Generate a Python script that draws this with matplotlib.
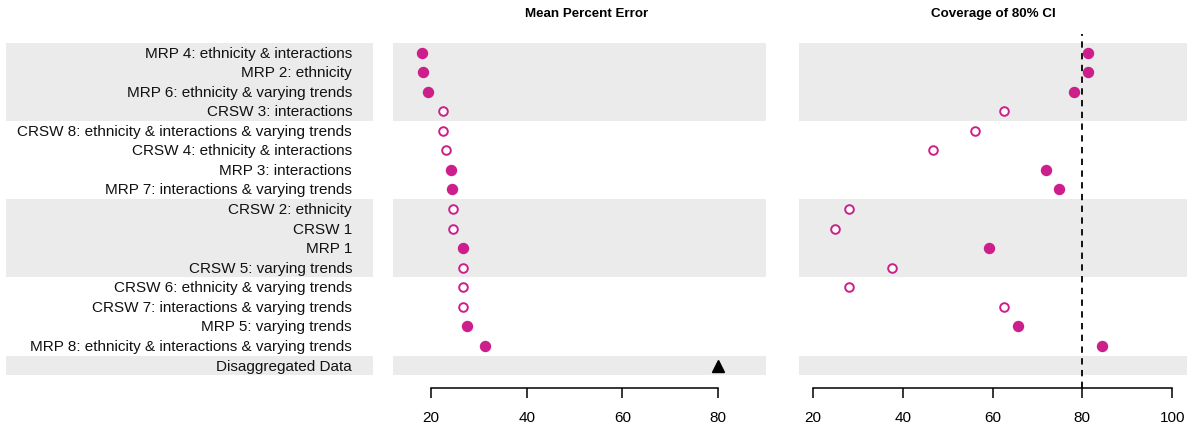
import matplotlib
matplotlib.use("Agg")
import matplotlib.pyplot as plt
import numpy as np

plt.rcParams['font.family'] = ['Liberation Sans', 'DejaVu Sans']

labels = [
    "MRP 4: ethnicity & interactions",
    "MRP 2: ethnicity",
    "MRP 6: ethnicity & varying trends",
    "CRSW 3: interactions",
    "CRSW 8: ethnicity & interactions & varying trends",
    "CRSW 4: ethnicity & interactions",
    "MRP 3: interactions",
    "MRP 7: interactions & varying trends",
    "CRSW 2: ethnicity",
    "CRSW 1",
    "MRP 1",
    "CRSW 5: varying trends",
    "CRSW 6: ethnicity & varying trends",
    "CRSW 7: interactions & varying trends",
    "MRP 5: varying trends",
    "MRP 8: ethnicity & interactions & varying trends",
    "Disaggregated Data",
]
mpe = [18.2, 18.4, 19.3, 22.4, 22.4, 23.1, 24.25, 24.3, 24.5, 24.6,
       26.6, 26.6, 26.6, 26.7, 27.5, 31.2, 80.0]
coverage = [81.3, 81.3, 78.1, 62.6, 56.2, 46.8, 71.8, 74.9, 28.1, 25.0,
            59.3, 37.6, 28.1, 62.5, 65.6, 84.3, None]
kind = ["mrp", "mrp", "mrp", "crsw", "crsw", "crsw", "mrp", "mrp", "crsw", "crsw",
        "mrp", "crsw", "crsw", "crsw", "mrp", "mrp", "data"]
shaded_rows = [(1, 4), (9, 12), (17, 17)]

pink = "#CC1F8C"
band = "#EBEBEB"
W, H = 1193, 427
fig = plt.figure(figsize=(W / 100, H / 100), dpi=100)

top, bottom = 35, 389
ylim = (18.15, 0.05)


def make_ax(x0, x1):
    ax = fig.add_axes([x0 / W, 1 - bottom / H, (x1 - x0) / W, (bottom - top) / H])
    ax.set_ylim(*ylim)
    for a, b in shaded_rows:
        ax.axhspan(a - 0.5, b + 0.5, color=band, lw=0, zorder=0)
    for s in ["top", "right", "left"]:
        ax.spines[s].set_visible(False)
    ax.set_yticks([])
    return ax


rows = np.arange(1, len(labels) + 1)

# label panel
axl = make_ax(6, 373)
axl.set_xlim(0, 1)
axl.spines["bottom"].set_visible(False)
axl.set_xticks([])
for r, lab in zip(rows, labels):
    axl.text(0.943, r, lab, ha="right", va="center", fontsize=11, color="#111111")


def draw_points(ax, vals):
    for r, v, k in zip(rows, vals, kind):
        if v is None:
            continue
        if k == "mrp":
            ax.plot(v, r, "o", ms=7.2, color=pink, mec=pink, zorder=3)
        elif k == "crsw":
            ax.plot(v, r, "o", ms=6.2, mfc="white", mec=pink, mew=1.4, zorder=3)
        else:
            ax.plot(v, r, "^", ms=9, color="black", zorder=3)


def style_axis(ax, ticks):
    ax.spines["bottom"].set_bounds(ticks[0], ticks[-1])
    ax.spines["bottom"].set_linewidth(1.1)
    ax.set_xticks(ticks)
    ax.tick_params(axis="x", length=7, width=1.1, labelsize=11, pad=9)


ax1 = make_ax(393, 766)
ax1.set_xlim(12.05, 90.0)
draw_points(ax1, mpe)
style_axis(ax1, [20, 40, 60, 80])
fig.text(587 / W, 1 - 14 / H, "Mean Percent Error", fontsize=9.6,
         fontweight="bold", ha="center", va="center")

ax2 = make_ax(799, 1187)
ax2.set_xlim(16.9, 103.3)
ax2.axvline(80, color="black", lw=1.3, ls=(0, (3.5, 3)), zorder=2)
draw_points(ax2, coverage)
style_axis(ax2, [20, 40, 60, 80, 100])
fig.text(993 / W, 1 - 14 / H, "Coverage of 80% CI", fontsize=9.6,
         fontweight="bold", ha="center", va="center")

fig.savefig("out.png", dpi=100)
